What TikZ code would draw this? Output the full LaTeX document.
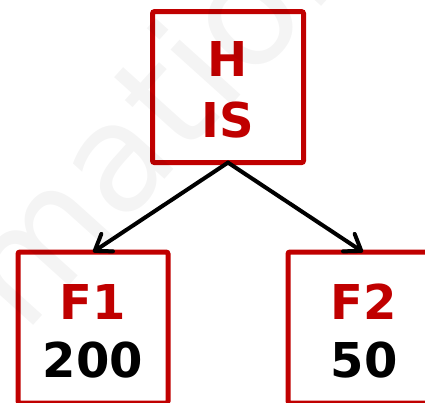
\documentclass[tikz,border=0pt]{standalone}
\usepackage{fontspec}
\setmainfont{DejaVu Sans}
\usetikzlibrary{arrows.meta}
\definecolor{boxred}{HTML}{C00000}
\tikzset{
  box/.style={draw=boxred, line width=5pt, rounded corners=2pt, minimum width=151pt, minimum height=151pt, inner sep=0pt, outer sep=0pt},
  lbl/.style={anchor=base, inner sep=0pt, font=\fontsize{48}{48}\selectfont\bfseries},
  conn/.style={draw=black, line width=4pt, line cap=round, -{Straight Barb[length=15pt, width=21pt, line cap=round, line join=round]}},
  wm/.style={anchor=base west, inner sep=0pt, text=black, text opacity=0.045, font=\fontsize{150}{150}\selectfont, rotate=48}
}
\begin{document}
\begin{tikzpicture}[x=1pt,y=1pt]
\useasboundingbox (0,0) rectangle (425,402);
\clip (0,0) rectangle (425,402);
\node[box] (top) at (228,314.9) {};
\node[box, minimum width=150pt] (f1) at (93,74.5) {};
\node[box, minimum width=150pt] (f2) at (363,74.5) {};
\node[lbl, text=boxred] (th) at (228,325.3) {H};
\node[lbl, text=boxred] (tis) at (228,264.7) {IS};
\node[lbl, text=boxred] (f1a) at (93,82.7) {F1};
\node[lbl, text=black] (f1b) at (93,24.3) {200};
\node[lbl, text=boxred] (f2a) at (364,82.7) {F2};
\node[lbl, text=black] (f2b) at (364,24.3) {50};
\draw[conn] (top.south) -- (f1.north);
\draw[conn] (top.south) -- (f2.north);
\node[wm] (wmark) at (24,66) {mation};
\end{tikzpicture}
\end{document}
